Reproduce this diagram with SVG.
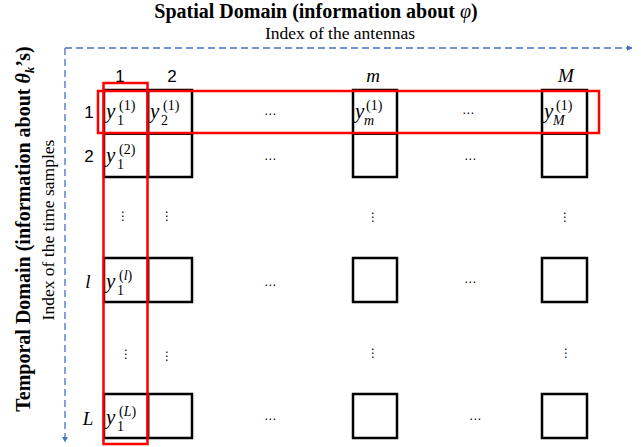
<svg xmlns="http://www.w3.org/2000/svg" width="641" height="447" viewBox="0 0 641 447">
<style>
.title{font-family:"Liberation Serif",serif;font-weight:bold;font-size:20px;fill:#000}
.idx{font-family:"Liberation Serif",serif;font-size:17.5px;fill:#000}
.num{font-family:"Liberation Sans",sans-serif;font-size:17px;fill:#000;text-anchor:middle}
.it{font-family:"Liberation Serif",serif;font-style:italic;font-size:19px;fill:#000;text-anchor:middle}
.cy{font-family:"Liberation Serif",serif;font-style:italic;font-size:21px;fill:#000}
.sub{font-size:14px;font-style:normal}
.subi{font-size:14px;font-style:italic}
.sup{font-size:14px;font-style:normal}
.dots{font-family:"DejaVu Sans",sans-serif;font-size:12px;fill:#000;text-anchor:middle}
.cell{fill:none;stroke:#000;stroke-width:2.5}
.red{fill:none;stroke:#FF0000;stroke-width:2.5}
.axis{fill:none;stroke:#4472C4;stroke-width:1.3;stroke-dasharray:7 4}
</style>
<defs>
<marker id="ah" viewBox="0 0 10 10" refX="9" refY="5" markerWidth="6" markerHeight="6" markerUnits="userSpaceOnUse" orient="auto">
<path d="M0,0 L10,5 L0,10 z" fill="#4472C4"/>
</marker>
</defs>
<g id="titles">
<text class="title" x="316" y="18" text-anchor="middle">Spatial Domain (information about <tspan font-style="italic" font-weight="normal">φ</tspan>)</text>
<text class="idx" x="340" y="39" text-anchor="middle">Index of the antennas</text>
<text class="title" transform="translate(30,229) rotate(-90)" text-anchor="middle">Temporal Domain (information about <tspan font-style="italic">θ</tspan><tspan font-style="italic" font-size="13" dy="4">k</tspan><tspan dy="-4">’s)</tspan></text>
<text class="idx" transform="translate(54,230) rotate(-90)" text-anchor="middle">Index of the time samples</text>
</g>
<g id="connectors">
<path class="axis" d="M65,48 L632,48" marker-end="url(#ah)"/>
<path class="axis" d="M65,48 L65,442" marker-end="url(#ah)"/>
</g>
<g id="labels">
<text class="num" x="120" y="82">1</text>
<text class="num" x="172" y="82">2</text>
<text class="it" x="373" y="82">m</text>
<text class="it" x="566" y="82">M</text>
<text class="num" x="89" y="118">1</text>
<text class="num" x="89" y="162">2</text>
<text class="it" x="88" y="288">l</text>
<text class="it" x="88" y="425">L</text>
</g>
<g id="cells">
<g id="c-1-1"><rect class="cell" x="104" y="90" width="44" height="43.5"/><text class="cy" x="106" y="118">y<tspan class="sub" x="117" y="125">1</tspan><tspan class="sup" x="119" y="110">(1)</tspan></text></g>
<g id="c-1-2"><rect class="cell" x="148" y="90" width="44" height="43.5"/><text class="cy" x="150" y="118">y<tspan class="sub" x="161" y="125">2</tspan><tspan class="sup" x="163" y="110">(1)</tspan></text></g>
<g id="c-1-m"><rect class="cell" x="353" y="90" width="44" height="43.5"/><text class="cy" x="355" y="118">y<tspan class="subi" x="364" y="125">m</tspan><tspan class="sup" x="366" y="110">(1)</tspan></text></g>
<g id="c-1-M"><rect class="cell" x="542" y="90" width="45" height="43.5"/><text class="cy" x="544" y="118">y<tspan class="subi" x="553" y="125">M</tspan><tspan class="sup" x="556" y="110">(1)</tspan></text></g>
<g id="c-2-1"><rect class="cell" x="104" y="133.5" width="44" height="43.5"/><text class="cy" x="106" y="162">y<tspan class="sub" x="117" y="169">1</tspan><tspan class="sup" x="119" y="154">(2)</tspan></text></g>
<g id="c-2-2"><rect class="cell" x="148" y="133.5" width="44" height="43.5"/></g>
<g id="c-2-m"><rect class="cell" x="353" y="133.5" width="44" height="43.5"/></g>
<g id="c-2-M"><rect class="cell" x="542" y="133.5" width="45" height="43.5"/></g>
<g id="c-l-1"><rect class="cell" x="104" y="258" width="44" height="44"/><text class="cy" x="106" y="288">y<tspan class="sub" x="117" y="295">1</tspan><tspan class="sup" x="119" y="280">(<tspan font-style="italic">l</tspan>)</tspan></text></g>
<g id="c-l-2"><rect class="cell" x="148" y="258" width="44" height="44"/></g>
<g id="c-l-m"><rect class="cell" x="353" y="258" width="44" height="44"/></g>
<g id="c-l-M"><rect class="cell" x="542" y="258" width="45" height="44"/></g>
<g id="c-L-1"><rect class="cell" x="104" y="394" width="44" height="44"/><text class="cy" x="106" y="424">y<tspan class="sub" x="117" y="431">1</tspan><tspan class="sup" x="119" y="416">(<tspan font-style="italic">L</tspan>)</tspan></text></g>
<g id="c-L-2"><rect class="cell" x="148" y="394" width="44" height="44"/></g>
<g id="c-L-m"><rect class="cell" x="353" y="394" width="44" height="44"/></g>
<g id="c-L-M"><rect class="cell" x="542" y="394" width="45" height="44"/></g>
</g>
<g id="ellipses">
<text class="dots" x="270" y="118">⋯</text>
<text class="dots" x="468" y="117">⋯</text>
<text class="dots" x="270" y="163">⋯</text>
<text class="dots" x="470" y="163">⋯</text>
<text class="dots" x="270" y="289">⋯</text>
<text class="dots" x="470" y="286">⋯</text>
<text class="dots" x="270" y="423">⋯</text>
<text class="dots" x="475" y="423">⋯</text>
<text class="dots" x="123" y="220">⋮</text>
<text class="dots" x="167" y="220">⋮</text>
<text class="dots" x="373" y="221">⋮</text>
<text class="dots" x="565" y="221">⋮</text>
<text class="dots" x="126" y="358">⋮</text>
<text class="dots" x="167" y="360">⋮</text>
<text class="dots" x="373" y="357">⋮</text>
<text class="dots" x="566" y="357">⋮</text>
</g>
<g id="highlights">
<rect id="row-highlight" class="red" x="98" y="91" width="501" height="42"/>
<rect id="col-highlight" class="red" x="103.5" y="83" width="44" height="361"/>
</g>
</svg>
